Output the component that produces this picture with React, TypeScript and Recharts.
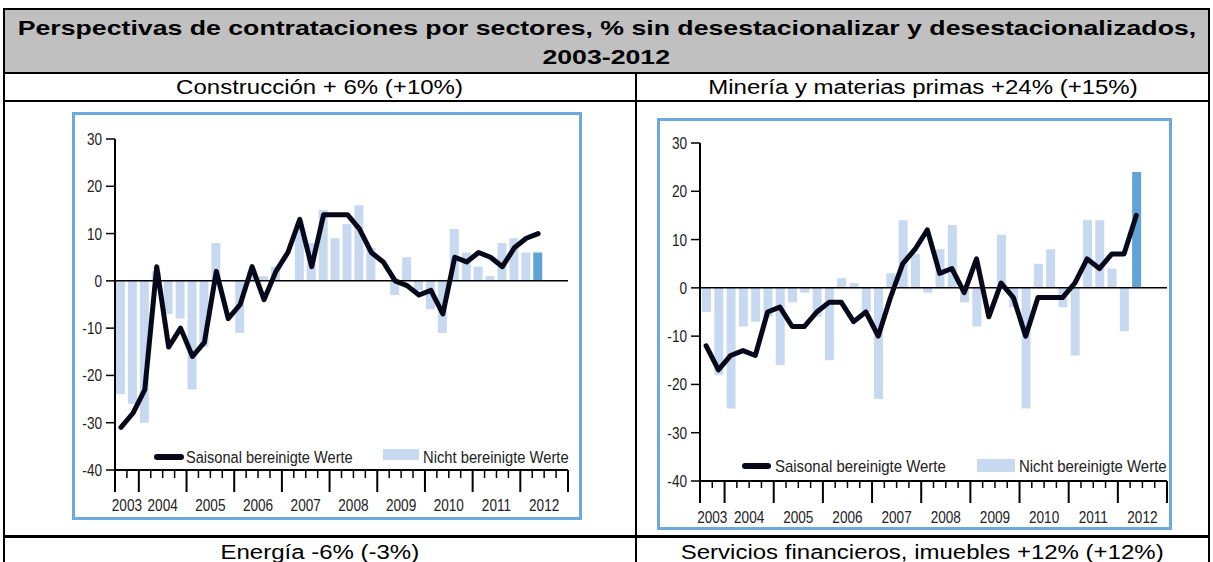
import React from "react";
import { ComposedChart, Bar, Line, XAxis, YAxis, ReferenceLine, Cell } from "recharts";

// ---------- data ----------
const quarters = [
  "2003Q3", "2003Q4",
  "2004Q1", "2004Q2", "2004Q3", "2004Q4",
  "2005Q1", "2005Q2", "2005Q3", "2005Q4",
  "2006Q1", "2006Q2", "2006Q3", "2006Q4",
  "2007Q1", "2007Q2", "2007Q3", "2007Q4",
  "2008Q1", "2008Q2", "2008Q3", "2008Q4",
  "2009Q1", "2009Q2", "2009Q3", "2009Q4",
  "2010Q1", "2010Q2", "2010Q3", "2010Q4",
  "2011Q1", "2011Q2", "2011Q3", "2011Q4",
  "2012Q1", "2012Q2", "2012Q3", "2012Q4",
];

const yTicks = [-40, -30, -20, -10, 0, 10, 20, 30];

// Construcción
const constructionAdjusted = [
  -31, -28, -23, 3, -14, -10, -16, -13, 2, -8,
  -5, 3, -4, 2, 6, 13, 3, 14, 14, 14,
  11, 6, 4, 0, -1, -3, -2, -7, 5, 4,
  6, 5, 3, 7, 9, 10,
];
const constructionRaw = [
  -24, -26, -30, 2, -7, -8, -23, -14, 8, 0,
  -11, 2, 1, 3, 0, 12, 8, 15, 9, 12,
  16, 7, 0, -3, 5, -2, -6, -11, 11, 6,
  3, 1, 8, 9, 6, 6,
];

// Minería y materias primas
const miningAdjusted = [
  -12, -17, -14, -13, -14, -5, -4, -8, -8, -5,
  -3, -3, -7, -5, -10, -2, 5, 8, 12, 3,
  4, -1, 6, -6, 1, -2, -10, -2, -2, -2,
  1, 6, 4, 7, 7, 15,
];
const miningRaw = [
  -5, -18, -25, -8, -7, -6, -16, -3, -1, -6,
  -15, 2, 1, -5, -23, 3, 14, 7, -1, 8,
  13, -3, -8, 0, 11, -4, -25, 5, 8, -4,
  -14, 14, 14, 4, -9, 24,
];

const titleLine1 = "Perspectivas de contrataciones por sectores, % sin desestacionalizar y desestacionalizados,";
const titleLine2 = "2003-2012";
const panelTitles = ["Construcción + 6% (+10%)", "Minería y materias primas +24% (+15%)"];
const nextTitles = ["Energía -6% (-3%)", "Servicios financieros, imuebles +12% (+12%)"];
const legendAdjusted = "Saisonal bereinigte Werte";
const legendRaw = "Nicht bereinigte Werte";

// ---------- styles ----------
const ARIAL = "'Liberation Sans', Arial, sans-serif";
const LIGHT = "#c6d9f0";
const DARK = "#5fa3d8";
const FRAME = "#6ea9dc";
const LINE = "#07091a";
const TEXT = "#222";
const NARROW_SCALE = 0.8;

function buildRows(adj: number[], raw: number[]) {
  return quarters.map((q, i) => ({
    q,
    adj: i < adj.length ? adj[i] : null,
    raw: i < raw.length ? raw[i] : null,
  }));
}

type PanelCfg = {
  frame: { left: number; top: number; width: number; height: number };
  margin: { top: number; right: number; left: number; bottom: number };
  yAxisWidth: number;
  xAxisHeight: number;
  barSize: number;
  minor: number;
  major: number;
  labelDy: number;
  legend: {
    lineX1: number; lineX2: number; lineY: number;
    text1X: number; text1Scale: number; textY: number;
    rectX: number; rectW: number; rectY: number; rectH: number;
    text2X: number; text2Scale: number;
  };
};

function ScaledText({ x, y, anchor, scale, children }: { x: number; y: number; anchor: "start" | "middle" | "end"; scale: number; children: any }) {
  return (
    <g transform={`translate(${x},${y}) scale(${scale},1)`}>
      <text x={0} y={0} textAnchor={anchor} fill={TEXT} fontSize={17} fontFamily={ARIAL}>
        {children}
      </text>
    </g>
  );
}

function makeXTick(plotWidth: number, cfg: PanelCfg) {
  return function XTick(props: any) {
    const { x, y, payload, index } = props;
    const q: string = payload.value;
    const half = typeof payload.offset === "number" && payload.offset > 0 ? payload.offset : plotWidth / quarters.length / 2;
    const left = x - half;
    const right = x + half;
    const isMajor = q.endsWith("Q1") || index === 0;
    const isLast = index === quarters.length - 1;
    const showLabel = q.endsWith("Q2") || index === 0;
    return (
      <g>
        <line x1={left} x2={left} y1={y} y2={y + (isMajor ? cfg.major : cfg.minor)} stroke="#000" strokeWidth={isMajor ? 2 : 1.5} />
        {isLast && <line x1={right} x2={right} y1={y} y2={y + cfg.major} stroke="#000" strokeWidth={2} />}
        {showLabel && (
          <ScaledText x={right} y={y + cfg.labelDy} anchor="middle" scale={NARROW_SCALE}>
            {q.slice(0, 4)}
          </ScaledText>
        )}
      </g>
    );
  };
}

function YTick(props: any) {
  const { x, y, payload } = props;
  return (
    <ScaledText x={x} y={y + 6} anchor="end" scale={NARROW_SCALE}>
      {payload.value}
    </ScaledText>
  );
}

function Panel({ cfg, adj, raw }: { cfg: PanelCfg; adj: number[]; raw: number[] }) {
  const rows = buildRows(adj, raw);
  const innerW = cfg.frame.width - 6;
  const innerH = cfg.frame.height - 6;
  const plotWidth = innerW - cfg.margin.left - cfg.margin.right - cfg.yAxisWidth;
  const lastIdx = raw.length - 1;
  const L = cfg.legend;
  return (
    <div
      style={{
        position: "absolute",
        left: cfg.frame.left,
        top: cfg.frame.top,
        width: innerW,
        height: innerH,
        border: `3px solid ${FRAME}`,
        background: "#fff",
      }}
    >
      <ComposedChart width={innerW} height={innerH} data={rows} margin={cfg.margin}>
        <XAxis
          dataKey="q"
          interval={0}
          height={cfg.xAxisHeight}
          axisLine={{ stroke: "#000", strokeWidth: 2 }}
          tickLine={false}
          tickSize={0}
          tickMargin={0}
          tick={makeXTick(plotWidth, cfg)}
        />
        <YAxis
          width={cfg.yAxisWidth}
          domain={[-40, 30]}
          ticks={yTicks}
          interval={0}
          allowDataOverflow
          axisLine={{ stroke: "#000", strokeWidth: 2 }}
          tickLine={{ stroke: "#000", strokeWidth: 1.5 }}
          tickSize={9}
          tickMargin={4}
          tick={YTick}
        />
        <Bar dataKey="raw" barSize={cfg.barSize} isAnimationActive={false}>
          {rows.map((r, i) => (
            <Cell key={r.q} fill={i === lastIdx ? DARK : LIGHT} />
          ))}
        </Bar>
        <ReferenceLine y={0} stroke="#000" strokeWidth={1.5} />
        <Line
          dataKey="adj"
          stroke={LINE}
          strokeWidth={5}
          dot={false}
          activeDot={false}
          strokeLinejoin="round"
          strokeLinecap="round"
          isAnimationActive={false}
        />
      </ComposedChart>
      <svg
        width={innerW}
        height={innerH}
        style={{ position: "absolute", left: 0, top: 0, pointerEvents: "none" }}
      >
        <line x1={L.lineX1} x2={L.lineX2} y1={L.lineY} y2={L.lineY} stroke={LINE} strokeWidth={6} strokeLinecap="round" />
        <ScaledText x={L.text1X} y={L.textY} anchor="start" scale={L.text1Scale}>
          {legendAdjusted}
        </ScaledText>
        <rect x={L.rectX} y={L.rectY} width={L.rectW} height={L.rectH} fill={LIGHT} />
        <ScaledText x={L.text2X} y={L.textY} anchor="start" scale={L.text2Scale}>
          {legendRaw}
        </ScaledText>
      </svg>
    </div>
  );
}

const leftCfg: PanelCfg = {
  frame: { left: 72, top: 112, width: 510, height: 408 },
  margin: { top: 24, right: 11, left: 0, bottom: 0 },
  yAxisWidth: 40,
  xAxisHeight: 47,
  barSize: 9,
  minor: 8,
  major: 22,
  labelDy: 41,
  legend: {
    lineX1: 82, lineX2: 106, lineY: 342,
    text1X: 111, text1Scale: 0.858, textY: 348,
    rectX: 308, rectW: 36, rectY: 334, rectH: 11,
    text2X: 348, text2Scale: 0.868,
  },
};

const rightCfg: PanelCfg = {
  frame: { left: 657, top: 118, width: 515, height: 412 },
  margin: { top: 22, right: 2, left: 0, bottom: 0 },
  yAxisWidth: 40,
  xAxisHeight: 46,
  barSize: 9,
  minor: 7,
  major: 22,
  labelDy: 42,
  legend: {
    lineX1: 85, lineX2: 108, lineY: 345,
    text1X: 115, text1Scale: 0.879, textY: 351,
    rectX: 317, rectW: 38, rectY: 338, rectH: 13,
    text2X: 359, text2Scale: 0.88,
  },
};

function HLine({ x, y, w, h }: { x: number; y: number; w: number; h: number }) {
  return <div style={{ position: "absolute", left: x, top: y, width: w, height: h, background: "#000" }} />;
}

function Stretched({ children, scale }: { children: any; scale: number }) {
  return (
    <div style={{ display: "inline-block", transform: `scaleX(${scale})`, transformOrigin: "center", whiteSpace: "nowrap" }}>
      {children}
    </div>
  );
}

const cellText: React.CSSProperties = {
  position: "absolute",
  height: 27,
  fontSize: 20,
  lineHeight: "27px",
  textAlign: "center",
  color: "#000",
};

export default function App() {
  return (
    <div
      style={{
        position: "absolute",
        left: 0,
        top: 0,
        width: 1213,
        height: 562,
        overflow: "hidden",
        background: "#fff",
        fontFamily: ARIAL,
      }}
    >
      {/* title row */}
      <div
        style={{
          position: "absolute",
          left: 5,
          top: 10,
          width: 1203,
          height: 62,
          background: "#c0c0c0",
          color: "#000",
          fontWeight: 700,
          fontSize: 21,
          lineHeight: "29px",
          textAlign: "center",
          paddingTop: 3,
          boxSizing: "border-box",
        }}
      >
        <div><Stretched scale={1.27}>{titleLine1}</Stretched></div>
        <div><Stretched scale={1.27}>{titleLine2}</Stretched></div>
      </div>
      {/* sub titles */}
      <div style={{ ...cellText, left: 5, top: 74, width: 630 }}>
        <Stretched scale={1.2}>{panelTitles[0]}</Stretched>
      </div>
      <div style={{ ...cellText, left: 637, top: 74, width: 571 }}>
        <Stretched scale={1.2}>{panelTitles[1]}</Stretched>
      </div>
      <div style={{ ...cellText, left: 5, top: 539, width: 630 }}>
        <Stretched scale={1.2}>{nextTitles[0]}</Stretched>
      </div>
      <div style={{ ...cellText, left: 637, top: 539, width: 571 }}>
        <Stretched scale={1.2}>{nextTitles[1]}</Stretched>
      </div>

      <Panel cfg={leftCfg} adj={constructionAdjusted} raw={constructionRaw} />
      <Panel cfg={rightCfg} adj={miningAdjusted} raw={miningRaw} />

      {/* table lines */}
      <HLine x={3} y={8} w={1207} h={2} />
      <HLine x={3} y={72} w={1207} h={2} />
      <HLine x={3} y={100} w={1207} h={2} />
      <HLine x={3} y={535} w={1207} h={3} />
      <HLine x={3} y={8} w={2} h={560} />
      <HLine x={1208} y={8} w={2} h={560} />
      <HLine x={635} y={72} w={2} h={490} />
    </div>
  );
}
